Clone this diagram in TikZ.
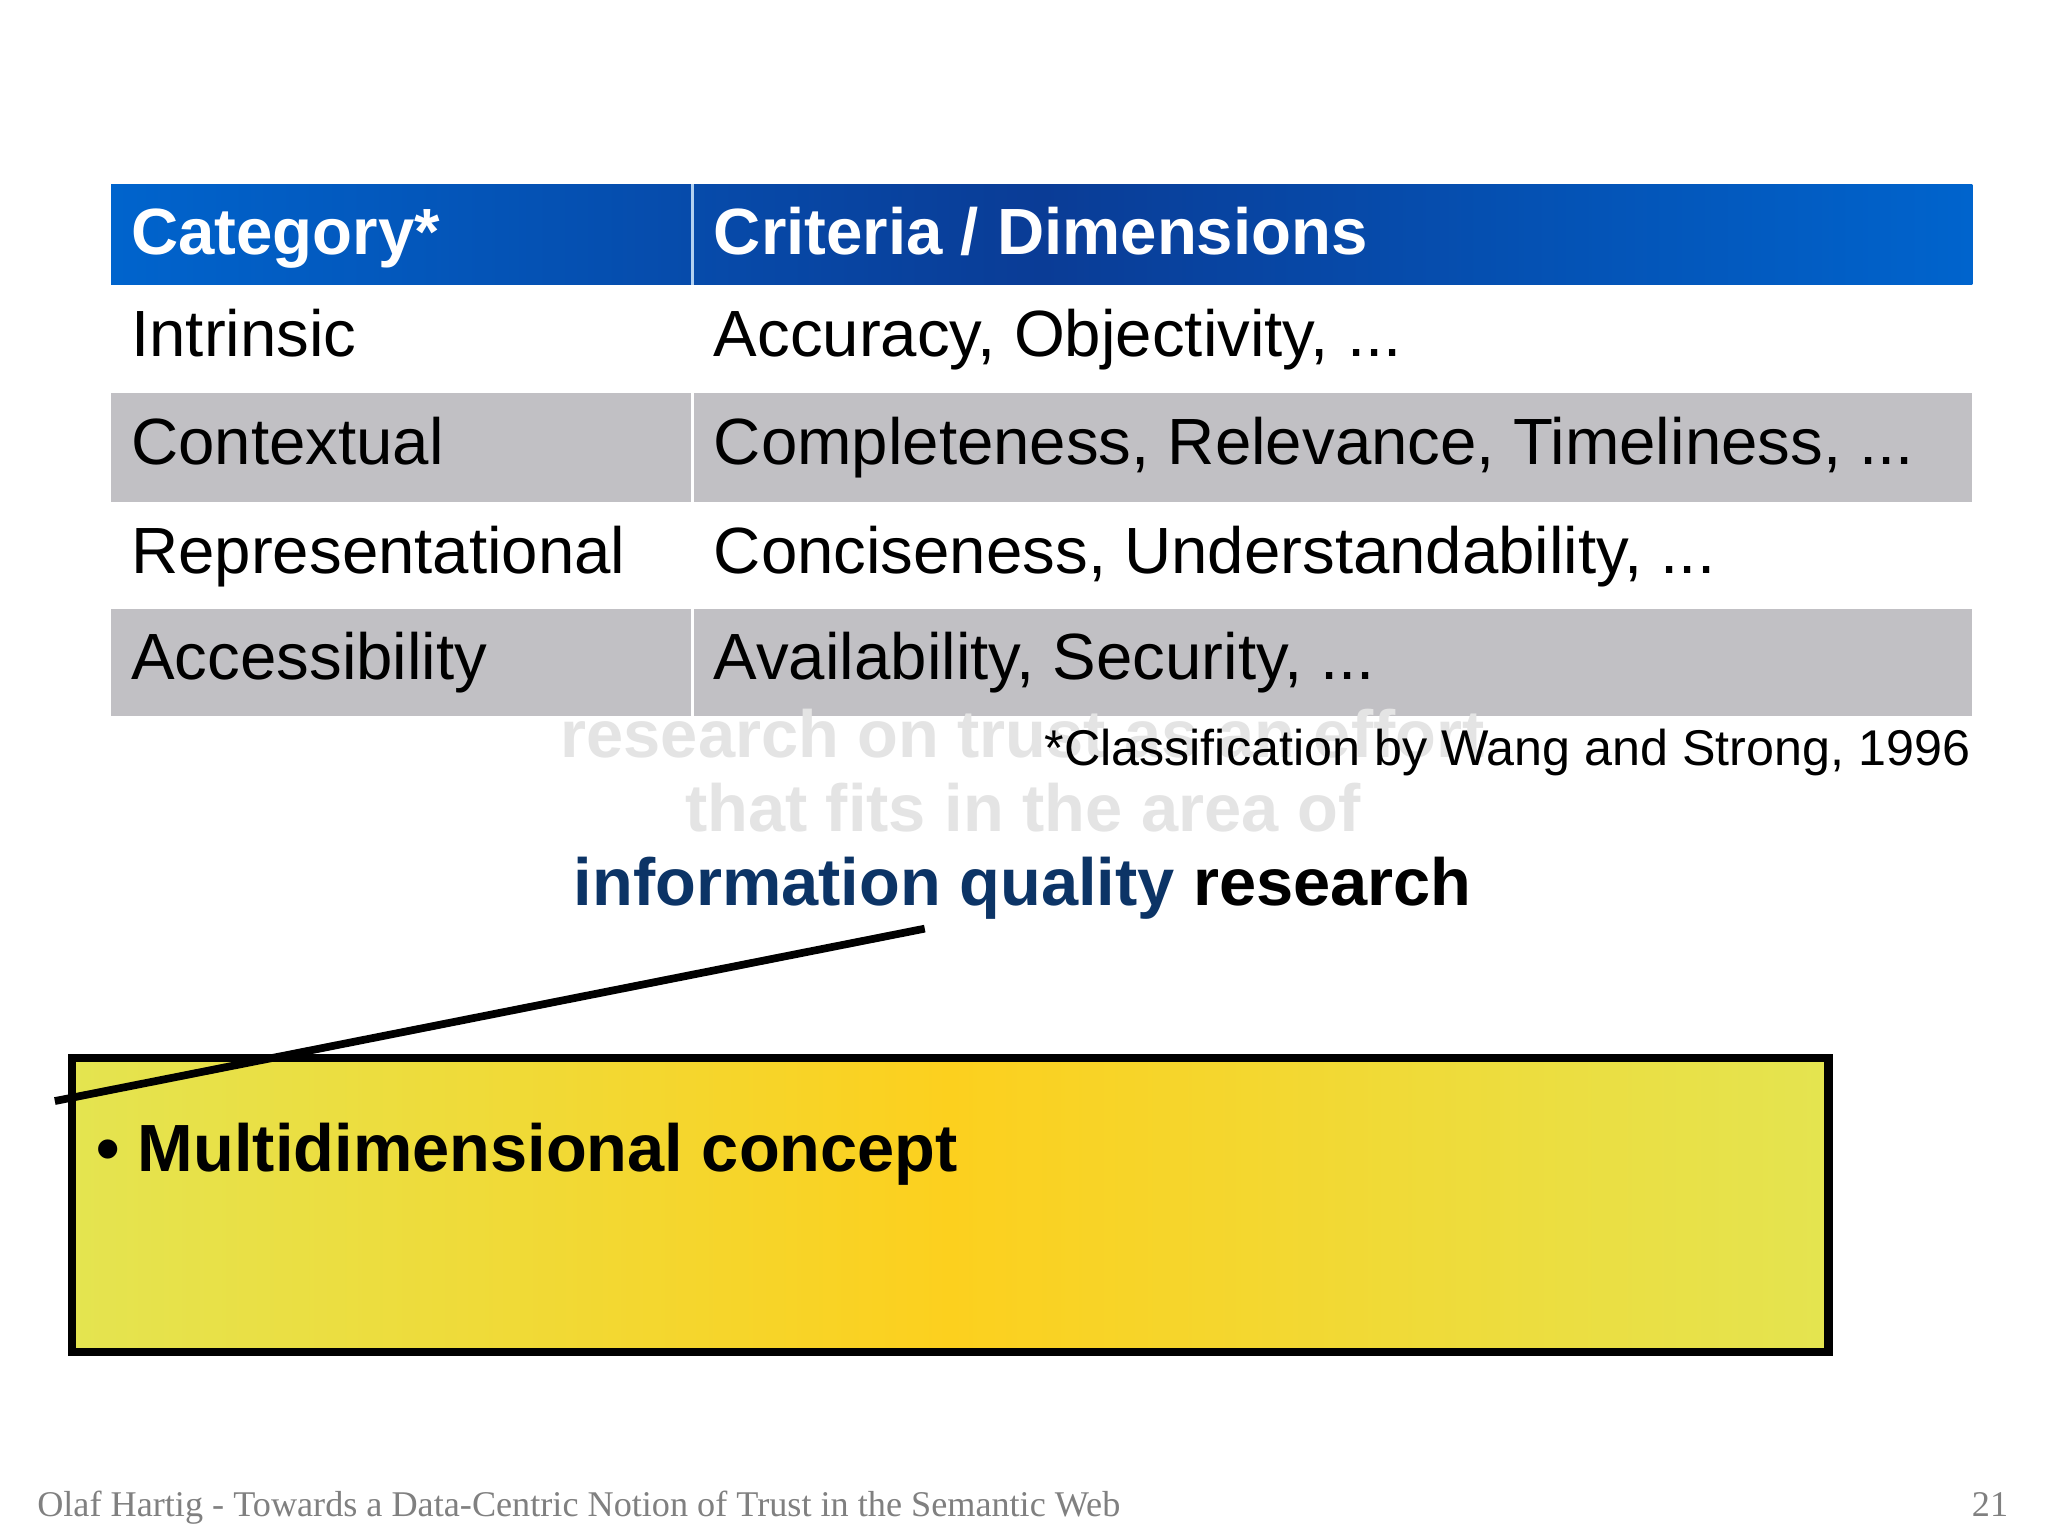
\documentclass[tikz,border=0pt]{standalone}
\usepackage{fontspec}
\setmainfont{Liberation Sans}
\newfontfamily\serifft{Liberation Serif}
\definecolor{hdr}{RGB}{0,100,205}
\definecolor{hdrd}{RGB}{10,60,150}
\definecolor{rowg}{RGB}{193,192,196}
\definecolor{iq}{RGB}{12,52,102}
\definecolor{fade}{RGB}{228,228,228}
\definecolor{yl}{RGB}{228,228,80}
\definecolor{yc}{RGB}{252,208,30}
\begin{document}
\begin{tikzpicture}[x=0.013061cm,y=-0.013061cm,
  cell/.style={anchor=base west,inner sep=0pt,font=\fontsize{18.6}{22}\selectfont},
  hcell/.style={anchor=base west,inner sep=0pt,text=white,font=\bfseries\fontsize{18.6}{22}\selectfont}]
\useasboundingbox (0,0) rectangle (1568,1175);
\fill[white] (0,0) rectangle (1568,1175);
% header
\shade[left color=hdr,right color=hdr,middle color=hdrd] (85,141) rectangle (1510,218);
\draw[white!70!hdr,line width=0.8pt] (530,141) -- (530,218);
\fill[rowg] (85,301) rectangle (1510,384);
\fill[rowg] (85,466) rectangle (1510,548);
\draw[white,line width=0.8pt] (530,301) -- (530,384) (530,466) -- (530,548);
\node[hcell] (h1) at (100,195) {Category*};
\node[hcell] (h2) at (546,195) {Criteria / Dimensions};
\node[cell] (c1) at (100,273) {Intrinsic};
\node[cell] (d1) at (546,273) {Accuracy, Objectivity, ...};
\node[cell] (c2) at (100,356) {Contextual};
\node[cell] (d2) at (546,356) {Completeness, Relevance, Timeliness, ...};
\node[cell] (c3) at (100,439) {Representational};
\node[cell] (d3) at (546,439) {Conciseness, Understandability, ...};
\node[cell] (c4) at (100,520) {Accessibility};
\node[cell] (d4) at (546,520) {Availability, Security, ...};
% faded text
\node[text=fade,font=\bfseries\fontsize{19}{23}\selectfont] (f1) at (783,562) {research on trust as an effort};
\node[text=fade,font=\bfseries\fontsize{19}{23}\selectfont] (f2) at (783,618) {that fits in the area of};
\node[anchor=base east,inner sep=0pt,font=\fontsize{14.3}{17}\selectfont] (fn) at (1509,586) {*Classification by Wang and Strong, 1996};
\node[anchor=base,inner sep=0pt,font=\bfseries\fontsize{19}{23}\selectfont] (iq) at (783,693) {\textcolor{iq}{information quality} research};
% box
\shade[left color=yl,right color=yl,middle color=yc] (55,810) rectangle (1400,1035);
\draw[line width=2.4pt] (55,810) rectangle (1400,1035);
\coordinate (lstart) at (708,711);
\coordinate (lend) at (42,843);
\draw[line width=2.2pt] (lstart) -- (lend);
\node[anchor=base west,inner sep=0pt,font=\bfseries\fontsize{19}{23}\selectfont] (b) at (73,897) {\textbullet\ Multidimensional concept};
% footer
\node[anchor=base west,inner sep=0pt,text=gray,font=\serifft\fontsize{10.3}{13}\selectfont] (ft) at (28,1161) {Olaf Hartig - Towards a Data-Centric Notion of Trust in the Semantic Web};
\node[anchor=base east,inner sep=0pt,text=gray,font=\serifft\fontsize{10.3}{13}\selectfont] (pg) at (1538,1161) {21};
\end{tikzpicture}
\end{document}
